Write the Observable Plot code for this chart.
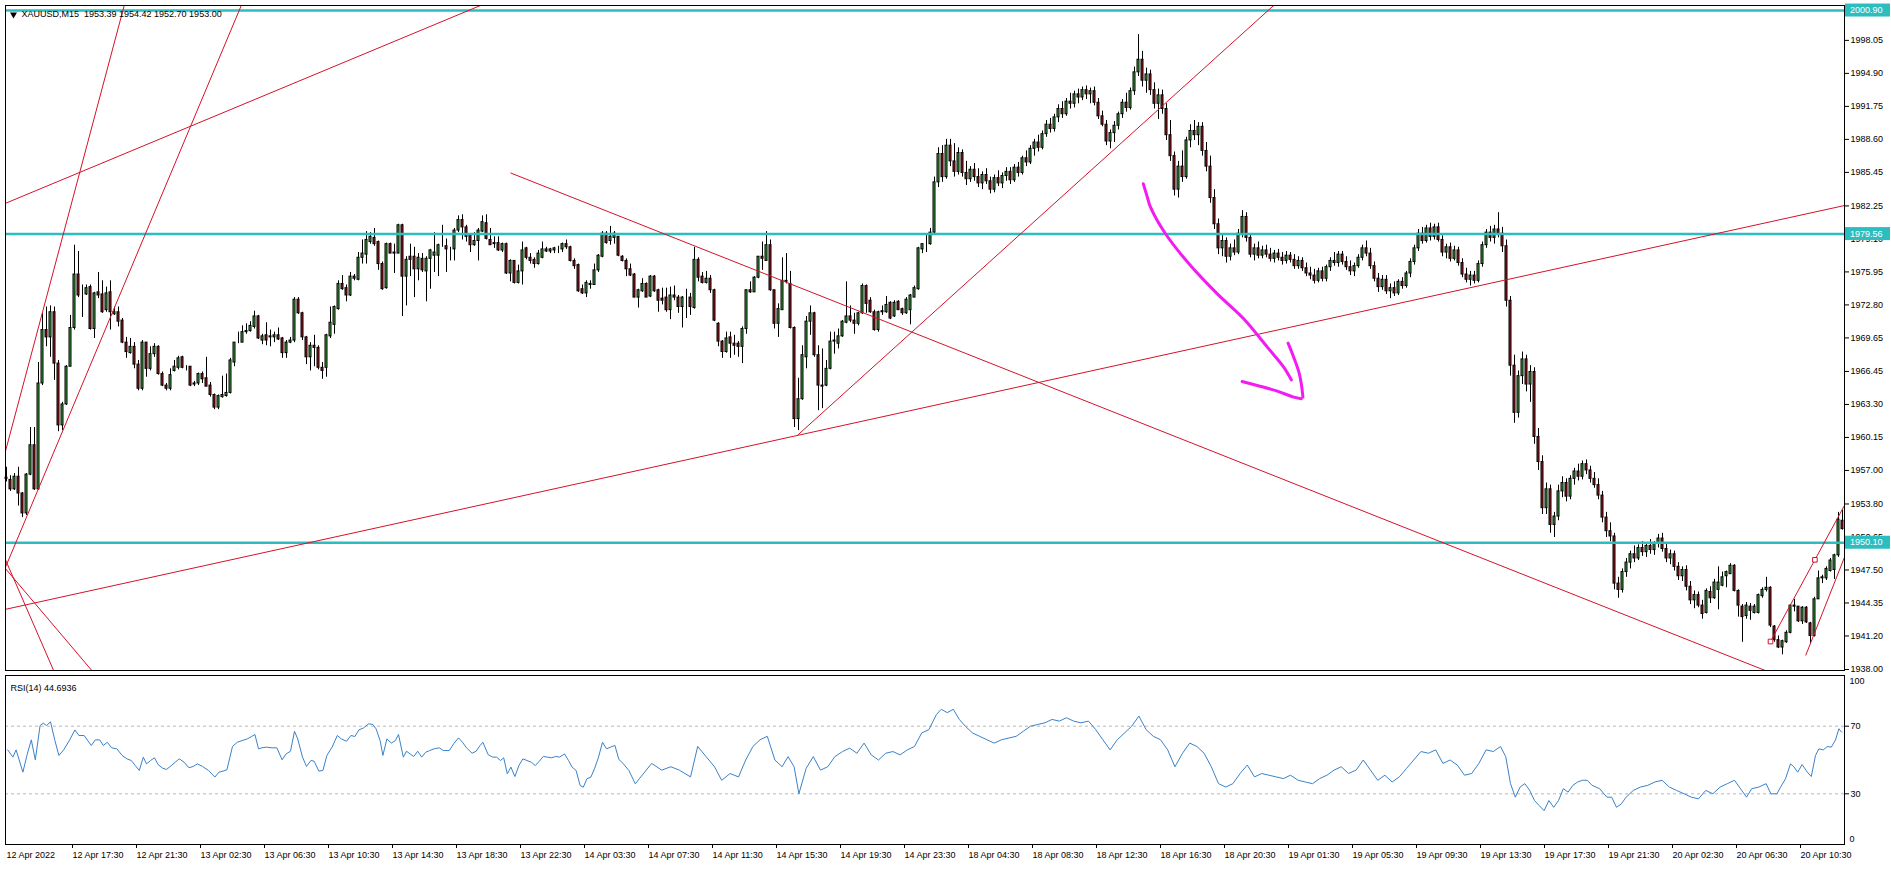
<!DOCTYPE html>
<html><head><meta charset="utf-8">
<script src="https://cdn.jsdelivr.net/npm/d3@7"></script>
<script src="https://cdn.jsdelivr.net/npm/@observablehq/plot@0.6"></script>
<style>
html,body{margin:0;padding:0;background:#fff}
body{width:1891px;height:869px;overflow:hidden;position:relative;font-family:"Liberation Sans",Arial,sans-serif}
#main,#rsi{position:absolute;left:0}
#main{top:0}#rsi{top:672px}
svg{overflow:visible}
</style></head><body>
<div id="main"></div><div id="rsi"></div>
<script>
// ---- XAUUSD M15 candles, one entry per bar (bar 0 = 12 Apr 13:30) ----
const opens=[1956.3,1956.1,1955.2,1956.4,1954.8,1952.9,1956.6,1959.4,1955.2,1965.3,
1970.4,1969.7,1972.1,1967.2,1961.3,1963.3,1966.9,1970.6,1975.7,1973.8,
1973.8,1974.5,1970.5,1974.0,1973.8,1972.3,1974.0,1971.9,1972.1,1971.3,
1969.2,1968.2,1968.8,1967.1,1964.8,1969.2,1966.7,1968.1,1968.8,1966.2,
1965.1,1964.8,1966.5,1966.8,1967.8,1966.9,1966.9,1965.2,1965.3,1966.2,
1965.8,1965.1,1964.2,1963.0,1964.0,1964.1,1964.4,1967.3,1969.2,1969.2,
1970.2,1970.3,1970.7,1971.7,1969.4,1969.9,1969.7,1969.7,1969.9,1969.6,
1968.2,1969.2,1969.4,1973.3,1972.0,1969.7,1967.8,1968.9,1968.7,1966.8,
1966.8,1969.8,1970.9,1972.4,1974.8,1974.4,1973.7,1975.5,1975.2,1977.3,
1977.6,1978.8,1979.2,1978.8,1976.7,1974.4,1978.6,1977.7,1977.7,1980.4,
1975.5,1977.4,1977.4,1976.2,1977.2,1976.0,1977.2,1977.5,1977.5,1978.5,
1978.4,1978.1,1978.1,1979.9,1980.9,1980.2,1979.4,1978.5,1978.9,1979.8,
1980.6,1979.0,1978.6,1978.7,1978.0,1978.6,1975.8,1977.0,1974.9,1976.0,
1978.2,1977.3,1977.1,1976.7,1977.3,1978.1,1977.9,1978.0,1978.2,1978.1,
1978.6,1978.3,1977.0,1976.6,1974.3,1973.9,1974.8,1974.7,1976.1,1977.4,
1979.6,1978.9,1979.2,1979.3,1977.4,1977.0,1976.2,1975.7,1973.5,1974.1,
1974.8,1973.6,1975.5,1974.2,1973.4,1973.5,1972.3,1973.7,1973.5,1972.6,
1973.5,1973.5,1972.5,1977.1,1975.5,1974.9,1975.3,1974.2,1971.0,1969.3,
1968.3,1969.7,1969.1,1969.1,1968.8,1970.5,1974.2,1974.0,1975.4,1977.4,
1977.0,1978.5,1974.2,1971.0,1972.3,1975.1,1974.8,1970.6,1961.9,1963.8,
1967.8,1971.2,1972.0,1968.0,1965.1,1965.1,1966.7,1969.3,1969.1,1969.8,
1971.1,1971.7,1971.3,1971.0,1972.0,1974.6,1973.2,1972.1,1970.4,1972.1,
1972.1,1973.0,1971.7,1973.1,1972.4,1972.0,1972.3,1973.5,1974.3,1978.1,
1978.6,1978.6,1979.7,
1984.5,1987.2,1985.0,1988.0,1986.5,1985.5,1987.3,1985.4,1984.8,1985.7,
1985.0,1984.4,1985.2,1984.6,1983.8,1984.9,1984.4,1985.1,1985.5,1984.7,
1985.9,1985.4,1986.8,1986.4,1987.7,1988.3,1987.8,1989.1,1990.0,1989.6,
1990.7,1991.5,1991.0,1992.2,1992.0,1992.9,1992.6,1993.3,1992.9,1993.2,
1992.1,1990.8,1990.0,1988.4,1989.2,1989.9,1991.0,1992.1,1991.6,1993.2,
1995.0,1996.2,1994.2,1994.8,1993.3,1992.0,1992.8,1991.5,1989.0,1987.0,
1983.8,1986.0,1985.0,1988.5,1989.4,1989.0,1989.8,1987.5,1986.0,1983.0,
1980.5,1978.2,1978.9,1977.4,1978.2,1977.8,1979.6,1981.2,1979.2,1977.6,
1978.2,1977.5,1978.0,1977.6,1977.2,1977.7,1977.3,1977.0,1977.5,1977.1,
1976.5,1977.0,1976.3,1975.8,1975.6,1975.1,1976.0,1975.3,1976.4,1977.0,
1976.8,1977.6,1976.9,1976.4,1976.0,1976.5,1977.3,1978.2,1977.7,1976.5,
1975.3,1974.5,1975.2,1974.1,1974.4,1973.9,1975.0,1974.6,1975.8,1976.9,
1978.2,1979.6,1978.9,1980.1,1979.3,1980.2,1979.0,1977.8,1978.3,1977.2,
1978.0,1976.8,1975.7,1975.2,1975.6,1975.1,1976.7,1978.5,1979.7,1979.2,
1980.0,1979.6,1978.4,1973.2,1967.0,1962.5,1966.0,1967.6,1965.2,1966.4,
1960.2,1957.8,1953.4,1955.2,1951.8,1952.6,1955.0,1955.8,1954.5,1956.2,
1956.9,1956.4,1957.6,1957.0,1956.2,1955.6,1954.6,1952.5,1951.2,1950.7,
1946.2,1945.6,1947.3,1948.2,1949.0,1948.6,1949.6,1949.2,1949.8,1949.4,
1950.0,1950.5,1949.5,1948.6,1949.0,1947.8,1946.9,1947.5,1945.9,1944.6,1945.1,
1944.1,1943.4,1945.4,1944.8,1945.6,1946.0,1946.9,1947.1,1947.9,1945.5,
1944.0,1943.1,1944.0,1943.4,1943.4,1945.0,1945.6,1945.8,1942.1,1940.8,
1940.1,1940.6,1941.5,1944.1,1944.0,1942.6,1943.9,1942.4,1941.2,1944.7,
1946.7,1946.7,1947.4,1947.5,1948.9,1952.2];
const highs=[1957.3,1956.5,1956.7,1957.3,1954.9,1956.7,1961.1,1961.1,1967.3,1972.0,
1972.6,1972.7,1972.6,1967.5,1963.5,1967.0,1971.8,1978.5,1977.9,1974.7,
1974.7,1974.7,1974.0,1975.9,1975.1,1974.5,1975.1,1972.6,1972.6,1971.5,
1969.7,1969.6,1969.2,1967.5,1969.4,1969.2,1968.8,1969.1,1968.9,1966.4,
1965.3,1966.7,1967.5,1967.9,1967.9,1967.0,1966.9,1965.5,1966.3,1966.4,
1967.8,1965.4,1964.3,1964.2,1966.0,1966.2,1967.7,1969.2,1970.2,1970.8,
1971.0,1971.2,1972.2,1971.8,1970.0,1971.1,1970.4,1970.2,1970.6,1969.7,
1969.4,1969.7,1973.5,1973.5,1972.1,1969.8,1969.2,1969.9,1968.9,1967.3,
1970.0,1972.6,1972.7,1975.1,1975.6,1974.7,1975.9,1975.7,1977.8,1979.0,
1979.8,1979.7,1980.1,1978.9,1976.9,1978.7,1978.7,1978.6,1980.5,1980.5,
1977.4,1978.6,1978.3,1977.7,1977.7,1977.4,1978.1,1979.7,1978.6,1980.4,
1979.1,1978.3,1980.1,1981.3,1981.4,1980.4,1979.6,1979.7,1980.1,1981.3,
1981.4,1980.1,1979.3,1979.3,1978.7,1978.7,1977.1,1977.0,1976.6,1978.8,
1978.3,1977.7,1977.3,1978.0,1978.8,1978.3,1978.2,1978.3,1978.4,1978.7,
1979.0,1978.4,1977.2,1976.7,1974.7,1975.1,1975.1,1976.7,1977.6,1979.8,
1979.8,1980.3,1979.8,1979.3,1977.5,1977.2,1976.7,1975.8,1974.3,1975.3,
1974.9,1975.6,1975.6,1974.3,1974.4,1974.4,1974.5,1974.6,1973.7,1973.6,
1974.3,1973.9,1978.3,1977.3,1975.9,1976.0,1975.6,1974.3,1971.1,1969.4,
1970.2,1970.2,1969.9,1969.3,1970.7,1974.2,1975.0,1975.5,1977.4,1978.8,
1979.8,1979.0,1974.2,1972.9,1977.3,1977.7,1976.0,1970.7,1965.8,1968.9,
1971.7,1972.7,1972.1,1968.9,1968.6,1967.5,1970.2,1970.2,1970.5,1971.3,
1975.0,1972.7,1972.0,1972.1,1974.8,1974.7,1973.5,1972.3,1972.2,1972.7,
1973.6,1973.1,1973.2,1973.2,1972.5,1973.5,1973.8,1974.6,1978.3,1978.6,
1979.6,1980.1,1985.0,
1987.8,1988.0,1988.6,1988.6,1988.2,1987.8,1987.6,1986.5,1986.0,1986.3,
1985.8,1985.5,1985.8,1985.0,1985.2,1985.6,1985.4,1985.9,1985.9,1986.2,
1986.4,1987.0,1987.5,1988.0,1988.6,1989.0,1989.4,1990.4,1990.6,1991.0,
1991.9,1992.2,1992.5,1993.0,1993.2,1993.4,1993.6,1993.7,1993.5,1993.6,
1992.5,1991.3,1990.4,1989.5,1990.3,1991.2,1992.4,1993.0,1993.5,1995.5,
1998.6,1997.0,1995.4,1995.2,1994.0,1993.4,1993.3,1992.0,1990.4,1987.4,
1986.5,1987.5,1988.8,1990.0,1990.4,1990.2,1990.2,1988.3,1987.0,1983.8,
1981.0,1979.5,1979.2,1978.6,1979.0,1980.0,1981.8,1981.6,1979.6,1978.6,
1978.8,1978.4,1978.5,1978.2,1978.0,1978.1,1977.8,1977.9,1977.8,1977.6,
1977.4,1977.3,1976.8,1976.4,1976.2,1976.3,1976.4,1976.6,1977.3,1977.8,
1977.9,1977.9,1977.4,1977.0,1976.8,1977.6,1978.5,1978.9,1978.2,1976.9,
1975.8,1975.6,1975.6,1974.8,1975.0,1975.2,1975.4,1976.0,1977.2,1978.5,
1980.0,1980.2,1980.4,1980.6,1980.5,1980.6,1979.4,1978.6,1978.7,1978.4,
1978.3,1977.2,1976.3,1976.0,1976.0,1977.0,1978.8,1980.0,1980.3,1980.4,
1981.6,1980.2,1979.0,1973.6,1968.0,1966.5,1968.3,1968.0,1967.0,1966.8,
1961.0,1958.4,1955.8,1955.6,1953.0,1955.6,1956.4,1956.2,1956.5,1957.2,
1957.6,1957.9,1958.0,1957.4,1956.8,1956.2,1955.0,1953.0,1952.0,1951.0,
1946.8,1947.6,1948.6,1949.3,1949.8,1949.9,1950.2,1950.0,1950.4,1950.2,
1950.9,1951.0,1950.0,1949.4,1949.3,1948.2,1947.8,1947.9,1946.4,1945.5,1945.4,
1944.6,1945.7,1945.9,1946.6,1947.8,1947.3,1947.4,1948.1,1948.0,1945.6,
1944.2,1944.4,1944.3,1944.2,1945.2,1945.8,1946.8,1945.9,1942.2,1941.2,
1940.8,1941.7,1944.2,1944.7,1944.0,1944.0,1944.0,1942.5,1944.9,1947.4,
1947.0,1947.8,1948.6,1949.0,1953.0,1953.2];
const lows=[1955.9,1955.0,1955.1,1953.6,1952.5,1952.7,1956.5,1955.1,1955.1,1965.1,
1968.8,1967.8,1965.6,1960.7,1960.8,1963.2,1966.9,1970.4,1973.5,1971.6,
1973.7,1970.4,1969.6,1973.4,1972.0,1972.1,1970.4,1971.8,1970.7,1969.1,
1967.7,1968.1,1966.7,1964.6,1964.6,1965.9,1966.5,1967.8,1966.1,1965.0,
1964.6,1964.6,1966.4,1966.6,1966.7,1966.5,1965.0,1965.0,1965.1,1965.3,
1965.0,1964.0,1962.8,1962.8,1963.9,1964.0,1964.3,1966.9,1969.1,1969.2,
1970.0,1970.2,1970.5,1969.5,1969.0,1968.9,1968.8,1969.2,1969.4,1967.7,
1967.7,1969.1,1969.2,1971.9,1969.4,1967.1,1966.5,1966.9,1966.6,1965.7,
1965.9,1969.6,1970.0,1972.3,1974.2,1973.1,1973.6,1975.1,1975.1,1976.7,
1976.7,1978.6,1978.4,1976.1,1974.2,1974.3,1977.7,1975.8,1977.7,1971.7,
1972.7,1975.5,1973.5,1975.1,1975.9,1973.1,1974.3,1975.9,1975.5,1978.3,
1975.9,1977.0,1977.0,1979.7,1979.0,1978.8,1977.8,1978.4,1977.0,1979.7,
1979.0,1978.5,1978.2,1977.9,1977.8,1975.7,1975.0,1974.8,1974.8,1974.7,
1977.1,1976.7,1976.3,1976.6,1977.2,1977.8,1977.7,1977.7,1977.7,1977.8,
1978.1,1976.9,1976.2,1974.0,1973.8,1973.5,1974.3,1974.7,1975.9,1977.3,
1978.6,1978.5,1978.6,1977.4,1976.9,1975.5,1975.5,1973.5,1972.5,1974.0,
1973.5,1973.5,1974.0,1972.1,1972.8,1972.1,1971.4,1973.2,1972.0,1970.6,
1971.5,1971.8,1972.4,1975.0,1974.8,1974.8,1973.9,1971.2,1968.8,1967.7,
1968.2,1967.7,1968.0,1967.8,1967.2,1970.0,1973.9,1974.0,1975.3,1976.1,
1977.0,1974.1,1970.5,1969.7,1972.3,1974.8,1970.5,1961.1,1960.8,1963.7,
1966.7,1969.9,1967.8,1962.7,1962.9,1965.0,1966.6,1968.1,1968.6,1969.7,
1971.0,1971.1,1970.0,1970.8,1971.9,1972.0,1972.0,1970.3,1970.2,1971.8,
1972.0,1971.4,1971.6,1972.3,1971.8,1971.9,1970.9,1973.5,1974.2,1977.7,
1977.8,1978.5,1979.6,
1984.0,1984.5,1984.8,1986.0,1985.0,1985.2,1985.0,1984.2,1984.5,1984.6,
1984.0,1983.8,1984.3,1983.4,1983.5,1984.1,1983.9,1984.6,1984.3,1984.5,
1985.0,1985.2,1986.0,1986.2,1987.0,1987.4,1987.6,1988.8,1989.2,1989.3,
1990.2,1990.6,1990.8,1991.5,1991.6,1992.0,1992.3,1992.4,1992.0,1991.8,
1990.5,1989.8,1988.0,1987.7,1988.3,1989.5,1990.6,1991.2,1991.4,1992.8,
1994.6,1993.6,1993.0,1992.8,1991.5,1990.5,1991.0,1988.5,1986.5,1983.2,
1983.0,1984.5,1984.8,1987.8,1988.5,1988.0,1987.0,1985.5,1982.5,1980.0,
1977.6,1977.4,1976.8,1977.0,1977.5,1977.6,1979.2,1978.8,1977.3,1977.0,
1977.2,1977.2,1977.3,1976.9,1976.8,1977.0,1976.6,1976.7,1976.8,1976.2,
1976.2,1976.0,1975.5,1975.2,1974.8,1974.9,1975.0,1975.0,1976.0,1976.5,
1976.4,1976.6,1976.1,1975.6,1975.5,1976.3,1977.0,1977.4,1976.2,1975.0,
1974.0,1974.2,1973.8,1973.4,1973.6,1973.7,1974.3,1974.4,1975.4,1976.6,
1977.9,1978.6,1978.7,1978.9,1979.0,1978.8,1977.4,1977.2,1976.9,1977.0,
1976.5,1975.4,1974.9,1974.6,1974.8,1974.9,1976.4,1978.2,1978.8,1978.6,
1979.2,1977.8,1972.6,1966.0,1961.5,1962.0,1965.2,1964.5,1963.5,1959.5,
1957.0,1952.8,1952.8,1951.0,1950.6,1952.2,1954.4,1954.0,1954.2,1955.6,
1956.0,1956.1,1956.6,1955.8,1955.3,1954.2,1952.0,1950.6,1950.2,1945.6,
1944.8,1945.3,1946.8,1947.6,1948.2,1948.4,1948.8,1948.7,1949.0,1948.9,
1949.6,1949.2,1948.2,1948.0,1947.4,1946.5,1946.4,1945.5,1944.2,1943.8,1943.9,
1942.8,1943.3,1944.3,1944.7,1943.7,1945.9,1945.8,1947.1,1945.4,1943.0,
1940.6,1942.8,1942.7,1943.3,1943.3,1944.8,1945.4,1942.0,1940.6,1940.0,
1939.4,1940.5,1941.4,1943.5,1942.5,1942.3,1942.4,1940.4,1941.1,1944.7,
1946.2,1946.5,1947.3,1946.6,1948.7,1951.3];
const closes=[1956.2,1955.2,1956.4,1954.8,1952.9,1956.6,1959.4,1955.2,1965.3,1970.4,
1969.7,1972.1,1967.2,1961.3,1963.3,1966.9,1970.6,1975.7,1973.7,1973.8,
1974.4,1970.5,1973.9,1973.7,1972.1,1973.9,1972.1,1972.1,1971.2,1969.2,
1968.3,1968.8,1967.1,1964.8,1969.2,1966.7,1968.1,1968.8,1966.2,1965.1,
1964.8,1966.1,1966.9,1967.7,1966.8,1966.9,1965.1,1965.3,1966.2,1965.7,
1965.0,1964.2,1963.0,1964.1,1964.2,1964.4,1967.5,1969.2,1969.2,1970.2,
1970.3,1970.8,1971.7,1969.6,1969.8,1969.4,1969.8,1969.9,1969.5,1968.2,
1969.2,1969.4,1973.3,1972.0,1969.7,1967.8,1968.9,1968.7,1966.8,1966.5,
1969.9,1971.1,1972.6,1974.8,1974.3,1973.7,1975.5,1975.3,1977.3,1977.7,
1979.0,1979.3,1978.6,1976.7,1974.3,1978.6,1977.7,1977.8,1980.4,1975.5,
1977.1,1977.1,1976.2,1977.3,1976.1,1977.2,1978.0,1977.8,1978.5,1978.5,
1978.1,1978.1,1979.9,1980.9,1980.2,1979.3,1978.5,1978.9,1979.9,1980.7,
1979.1,1978.5,1978.7,1978.0,1978.6,1975.8,1977.0,1974.9,1976.0,1978.0,
1977.3,1977.0,1976.7,1977.7,1978.1,1977.9,1978.1,1978.2,1978.2,1978.6,
1978.3,1977.0,1976.5,1974.1,1973.9,1974.9,1974.7,1976.1,1977.5,1979.6,
1978.7,1979.3,1979.6,1977.5,1977.0,1976.2,1975.6,1973.5,1974.2,1974.8,
1973.5,1975.5,1974.1,1973.2,1973.2,1972.3,1973.7,1973.5,1972.6,1973.5,
1973.5,1972.6,1977.1,1975.4,1974.9,1975.3,1974.2,1971.3,1969.3,1968.3,
1969.6,1969.1,1968.9,1968.8,1970.5,1974.2,1974.0,1975.4,1977.4,1977.2,
1978.5,1974.2,1971.0,1972.4,1975.1,1975.0,1970.6,1961.9,1963.8,1968.0,
1971.2,1972.0,1968.0,1965.1,1965.0,1966.7,1969.3,1969.4,1969.8,1971.2,
1971.7,1971.3,1971.0,1972.0,1974.6,1972.9,1972.1,1970.4,1972.1,1972.2,
1972.8,1971.5,1973.0,1972.3,1972.0,1973.3,1973.7,1974.4,1978.2,1978.6,
1978.6,1979.7,1984.5,
1987.2,1985.0,1988.0,1986.5,1985.5,1987.3,1985.4,1984.8,1985.7,1985.0,
1984.4,1985.2,1984.6,1983.8,1984.9,1984.4,1985.1,1985.5,1984.7,1985.9,
1985.4,1986.8,1986.4,1987.7,1988.3,1987.8,1989.1,1990.0,1989.6,1990.7,
1991.5,1991.0,1992.2,1992.0,1992.9,1992.6,1993.3,1992.9,1993.2,1992.1,
1990.8,1990.0,1988.4,1989.2,1989.9,1991.0,1992.1,1991.6,1993.2,1995.0,
1996.2,1994.2,1994.8,1993.3,1992.0,1992.8,1991.5,1989.0,1987.0,1983.8,
1986.0,1985.0,1988.5,1989.4,1989.0,1989.8,1987.5,1986.0,1983.0,1980.5,
1978.2,1978.9,1977.4,1978.2,1977.8,1979.6,1981.2,1979.2,1977.6,1978.2,
1977.5,1978.0,1977.6,1977.2,1977.7,1977.3,1977.0,1977.5,1977.1,1976.5,
1977.0,1976.3,1975.8,1975.6,1975.1,1976.0,1975.3,1976.4,1977.0,1976.8,
1977.6,1976.9,1976.4,1976.0,1976.5,1977.3,1978.2,1977.7,1976.5,1975.3,
1974.5,1975.2,1974.1,1974.4,1973.9,1975.0,1974.6,1975.8,1976.9,1978.2,
1979.6,1978.9,1980.1,1979.3,1980.2,1979.0,1977.8,1978.3,1977.2,1978.0,
1976.8,1975.7,1975.2,1975.6,1975.1,1976.7,1978.5,1979.7,1979.2,1980.0,
1979.6,1978.4,1973.2,1967.0,1962.5,1966.0,1967.6,1965.2,1966.4,1960.2,
1957.8,1953.4,1955.2,1951.8,1952.6,1955.0,1955.8,1954.5,1956.2,1956.9,
1956.4,1957.6,1957.0,1956.2,1955.6,1954.6,1952.5,1951.2,1950.7,1946.2,
1945.6,1947.3,1948.2,1949.0,1948.6,1949.6,1949.2,1949.8,1949.4,1950.0,
1950.5,1949.5,1948.6,1949.0,1947.8,1946.9,1947.5,1945.9,1944.6,1945.1,1944.1,
1943.3,1945.5,1944.8,1946.3,1946.3,1946.8,1947.3,1947.9,1945.5,1944.1,
1943.0,1944.1,1943.6,1944.0,1945.1,1945.6,1945.8,1942.2,1940.8,1940.1,
1940.7,1941.5,1944.1,1944.0,1942.6,1943.9,1942.5,1941.2,1944.7,1946.7,
1946.8,1947.6,1948.4,1948.9,1952.3,1951.4];

// ---- RSI(14) line (bar position, value) ----
const rsiBar=[0.3,1.6,2.4,4.1,5.1,6.2,7.2,8.4,9.2,10.0,11.0,12.1,13.1,14.3,15.8,17.1,18.1,19.4,21.2,22.2,23.3,24.2,25.2,26.3,27.6,28.9,30.1,31.2,32.2,33.2,34.2,35.0,36.0,37.0,37.9,39.0,40.0,41.2,42.2,43.2,44.4,45.6,46.7,47.7,49.0,50.5,52.1,53.1,54.1,55.1,56.5,57.7,58.9,60.2,61.3,62.1,63.0,63.8,65.0,66.4,67.6,68.9,69.9,71.0,72.0,72.8,74.0,75.0,76.1,76.9,78.1,79.1,80.1,81.4,82.7,83.7,85.0,86.1,87.1,88.1,89.3,90.5,91.6,92.4,93.4,94.1,95.1,96.2,97.2,98.0,99.2,100.0,101.1,101.8,102.8,103.8,104.8,105.8,106.9,108.2,109.2,110.7,111.8,113.0,114.0,115.0,116.4,117.4,118.4,119.1,120.4,121.5,122.5,123.5,124.3,125.2,126.1,127.1,128.1,129.1,130.1,131.2,132.2,133.2,134.2,135.2,136.3,137.3,138.3,139.5,140.5,141.4,142.4,143.4,144.2,145.1,146.1,147.0,148.0,149.0,150.0,151.0,152.1,153.1,154.1,155.6,157.2,158.2,
161.3,163.8,166.1,168.2,171,172.8,174.9,177,178.8,180.9,183,184.8,186.6,188.4,190.2,192.1,193.9,195.4,196.9,198.1,199.9,201.7,203.5,205.3,207.1,209,210.8,212.6,214.4,216.2,218,219.8,221.6,223.4,225.2,227,228.8,230.6,232.5,233.7,235.2,236.7,238.2,239.7,241.5,243.3,245.1,246.9,248.8,250.6,252.4,254.2,256,257.8,259.6,261.4,263.2,265,266.8,268.6,270.5,272.3,274.1,275.9,277.7,279.5,281.3,283.1,284.9,286.7,288.5,290.3,292.1,294,295.8,297.6,299.4,301.2,303,304.8,306.6,308.4,310.2,312,313.8,315.6,317.4,319.2,321,322.9,324.7,326.5,328.3,330.1,331.9,333.7,335.5,337.4,339.2,341,342.8,344.6,346.4,348.2,350,351.8,353.6,355.5,357.3,359.1,360.9,362.7,364.5,366.3,368.1,369.9,371.7,373.5,374.8,376,377.2,378.4,379.6,380.8,382,383.2,384.4,385.6,386.8,388,389.2,390.4,391.6,392.8,394,395.2,396.4,398.3,400.1,401.3,402.5,403.7,404.9,406.7,408.5,410.3,412.1,413.9,415.7,417.5,419.4,421.2,423,424.8,426.6,428.4,430.2,432,433.8,435,436.3,438.1,439.9,441.1,442.6,443.5,444.75,446,446.8,447.8,448.9,450.2,451.2,452.25,453.1,454.2,455.2,456.2,457.25,458.1,458.75];
const rsiVal=[56.0,51.7,56.0,42.8,52.7,61.9,50.1,70.4,71.8,70.4,72.6,61.5,52.7,56.0,61.9,67.8,64.5,64.5,58.6,61.9,61.9,58.6,60.5,57.2,56.6,52.7,50.7,49.7,46.7,43.8,51.7,47.7,49.7,51.3,47.3,45.2,44.4,46.7,48.7,50.7,48.7,45.4,46.2,47.7,46.2,43.8,39.9,42.8,43.4,44.2,58.0,60.5,61.5,62.5,63.9,65.1,56.6,57.2,57.6,57.2,57.2,50.1,53.6,55.2,67.0,62.5,51.7,46.2,49.7,49.3,43.4,43.8,52.7,57.6,64.5,62.5,61.1,64.5,63.9,67.8,69.0,71.4,71.0,68.4,61.5,52.7,62.5,60.0,61.5,65.1,51.7,55.2,53.2,52.1,55.2,51.7,54.6,55.6,56.6,57.2,55.6,55.6,59.6,63.1,60.5,57.2,54.0,55.2,58.6,60.5,53.2,51.7,51.7,49.7,51.3,41.8,45.8,40.2,46.7,50.7,49.7,48.7,46.7,49.3,52.1,51.7,51.3,52.1,51.7,53.6,49.7,45.8,43.8,34.9,33.9,38.9,39.9,44.8,51.7,60.5,56.6,57.6,58.6,50.3,48.1,43.8,35.9,38.9,
48,44,46,44,40,58,52,46,38,42,40,50,58,62,64,50,46,52,46,30,45,52,44,46,52,55,57,54,60,53,50,54,55,53,56,58,66,68,77,80,78,80,74,70,66,64,62,60,62,63,64,67,70,71,72,74,73,75,73,72,73,68,62,56,62,66,70,76,68,64,62,56,46,54,60,58,54,46,36,34,36,42,47,40,42,41,40,39,41,38,37,36,39,41,44,46,42,44,50,44,38,41,37,40,45,50,55,54,56,48,50,47,41,42,48,56,55,58,52,36,28,34,36,32,26,23,20,26,22,26,33,31,35,37,38,38,35,33,28,28,22,24,28,32,34,35,37,38,34,32,30,28,27,32,30,34,36,38,32,28,33,34,36,30,30,33.9,38.9,47.7,46.1,42.8,47.3,42.8,40.2,52.7,56.6,56.0,58.0,57.6,61.9,68.5,66.5];

// ---- axes ----
const priceTicks=[1938.00,1941.20,1944.35,1947.50,1950.65,1953.80,1957.00,1960.15,1963.30,1966.45,1969.65,1972.80,1975.95,1979.10,1982.25,1985.45,1988.60,1991.75,1994.90,1998.05,2001.20];
const timeTickBars=[16,32,48,64,80,96,112,128,144,160,176,192,208,224,240,256,272,288,304,320,336,352,368,384,400,416,432,448];
const timeLabels=["12 Apr 17:30","12 Apr 21:30","13 Apr 02:30","13 Apr 06:30","13 Apr 10:30","13 Apr 14:30","13 Apr 18:30","13 Apr 22:30","14 Apr 03:30","14 Apr 07:30","14 Apr 11:30","14 Apr 15:30","14 Apr 19:30","14 Apr 23:30","18 Apr 04:30","18 Apr 08:30","18 Apr 12:30","18 Apr 16:30","18 Apr 20:30","19 Apr 01:30","19 Apr 05:30","19 Apr 09:30","19 Apr 13:30","19 Apr 17:30","19 Apr 21:30","20 Apr 02:30","20 Apr 06:30","20 Apr 10:30"];
const firstDateLabel="12 Apr 2022";
const rsiLevels=[30,70];

// ---- objects drawn on the chart ----
const levels=[2000.90,1979.56,1950.10];
const trendX1=[-1,-1,-1,-1,197.7,126,-0.5,-0.5,441,449.8];
const trendY1=[1957.77,1947.08,1982.38,1943.68,1960.34,1985.4,1948.69,1947.74,1940.67,1939.34];
const trendX2=[30,60,120,460,320,445,12,21.75,459.5,459.5];
const trendY2=[2002.2,2002.57,2001.62,1982.33,2002.49,1937.1,1937.71,1937.71,1953.67,1948.72];
const markerBar=[441,452.1];
const markerPrice=[1940.67,1948.47];
const arrowStroke=[0,0,0,0,0,0,0,0,0,0, 1,1,1,1,1, 2,2,2,2,2];
const arrowBar=[284.2,285.2,286,289.75,296,302.7,309.3,315.2,319.3,321.2, 320.4,321.8,323.1,323.7,324.1, 308.9,312.7,317.7,321.8,323.7];
const arrowPrice=[1984.36,1983.1,1982.13,1979.59,1976.56,1973.86,1971.48,1968.77,1966.86,1965.65, 1969.15,1967.81,1966.38,1965.27,1964.0, 1965.49,1965.11,1964.57,1964.0,1963.84];
const headerText="XAUUSD,M15  1953.39 1954.42 1952.70 1953.00";
const rsiText="RSI(14) 44.6936";

// ---- build ----
const bars=closes.map((c,i)=>({i,o:opens[i],h:highs[i],l:lows[i],c}));
const trends=trendX1.map((x,k)=>({x1:x,y1:trendY1[k],x2:trendX2[k],y2:trendY2[k]}));
const markers=markerBar.map((b,k)=>({b,p:markerPrice[k]}));
const arrow=arrowBar.map((b,k)=>({b,p:arrowPrice[k],s:arrowStroke[k]}));
const rsi=rsiBar.map((b,k)=>({b,v:rsiVal[k]}));
const labelFor=new Map(timeTickBars.map((b,k)=>[b,timeLabels[k]]));

const CYAN="#2dbdbf", RED="#d4122a", BULL="#3ba53b", BEAR="#a4161a", MAG="#f21cf2";
const FONT="Liberation Sans, Arial, sans-serif";
const xDomain=[-0.25,459.5];

const main=Plot.plot({
  width:1891,height:672,marginLeft:5,marginRight:47,marginTop:5,marginBottom:2,
  x:{domain:xDomain,axis:null,label:null},
  y:{domain:[1937.905,2001.38],axis:null,label:null},
  style:{fontFamily:FONT,fontSize:"9px",color:"#000",background:"transparent"},
  marks:[
    Plot.ruleX(bars,{x:"i",y1:"l",y2:"h",stroke:"#000",strokeWidth:1}),
    Plot.rect(bars,{x1:d=>d.i-0.25,x2:d=>d.i+0.25,y1:"o",y2:"c",fill:d=>d.c>=d.o?BULL:BEAR,stroke:"#000",strokeWidth:1}),
    Plot.ruleY(levels,{stroke:CYAN,strokeWidth:2.5}),
    Plot.link(trends,{x1:"x1",y1:"y1",x2:"x2",y2:"y2",stroke:RED,strokeWidth:1,clip:true}),
    Plot.dot(markers,{x:"b",y:"p",symbol:"square",r:2.6,stroke:RED,fill:"#fff",strokeWidth:1}),
    Plot.line(arrow,{x:"b",y:"p",z:"s",stroke:MAG,strokeWidth:3,curve:"catmull-rom",strokeLinecap:"round"}),
    Plot.axisY(priceTicks,{anchor:"right",tickSize:4,tickPadding:2,tickFormat:d=>d.toFixed(2),fontSize:9,fill:"#000",label:null}),
    Plot.frame({stroke:"#000"}),
    Plot.dot([0],{frameAnchor:"top-left",dx:8,dy:9,symbol:"triangle",r:2.6,rotate:180,fill:"#000",stroke:null}),
    Plot.text([headerText],{frameAnchor:"top-left",dx:16,dy:9,textAnchor:"start",lineAnchor:"middle",fontSize:9,fill:"#000"})
  ]
});
document.getElementById("main").appendChild(main);

// level labels on the price axis, positioned through the plot's own scales
{
  const ys=main.scale("y"), xs=main.scale("x");
  const x0=xs.apply(xDomain[1])+1;
  const g=d3.select(main).append("g").attr("font-family",FONT).attr("font-size",9).attr("text-anchor","start");
  levels.forEach(v=>{
    const y=ys.apply(v);
    g.append("rect").attr("x",x0).attr("y",y-6.5).attr("width",45).attr("height",13).attr("fill",CYAN);
    g.append("text").attr("x",x0+5).attr("y",y).attr("dy","0.35em").attr("fill","#fff").attr("text-anchor","start").text(v.toFixed(2));
  });
}

const rsiChart=Plot.plot({
  width:1891,height:197,marginLeft:5,marginRight:47,marginTop:3,marginBottom:25,
  x:{domain:xDomain,axis:null,label:null},
  y:{domain:[0,100],axis:null,label:null},
  style:{fontFamily:FONT,fontSize:"9px",color:"#000",background:"transparent"},
  marks:[
    Plot.ruleY(rsiLevels,{stroke:"#b8b8b8",strokeDasharray:"3,3"}),
    Plot.line(rsi,{x:"b",y:"v",stroke:"#3b82c8",strokeWidth:1}),
    Plot.axisY(rsiLevels,{anchor:"right",tickSize:4,tickPadding:2,fontSize:9,fill:"#000",label:null}),
    Plot.text([100],{y:d=>d,frameAnchor:"right",dx:5,dy:6,textAnchor:"start",text:d=>String(d),fontSize:9,fill:"#000"}),
    Plot.text([0],{y:d=>d,frameAnchor:"right",dx:5,dy:-5,textAnchor:"start",text:d=>String(d),fontSize:9,fill:"#000"}),
    Plot.axisX(timeTickBars,{anchor:"bottom",tickSize:4,tickPadding:3,tickFormat:d=>labelFor.get(d),textAnchor:"start",dx:2,fontSize:9,fill:"#000",label:null}),
    Plot.text([0],{x:d=>d,frameAnchor:"bottom",dy:7,lineAnchor:"top",textAnchor:"start",text:()=>firstDateLabel,fontSize:9,fill:"#000"}),
    Plot.frame({stroke:"#000"}),
    Plot.text([rsiText],{frameAnchor:"top-left",dx:5,dy:13,textAnchor:"start",lineAnchor:"middle",fontSize:9,fill:"#000"})
  ]
});
document.getElementById("rsi").appendChild(rsiChart);
</script>
</body></html>
